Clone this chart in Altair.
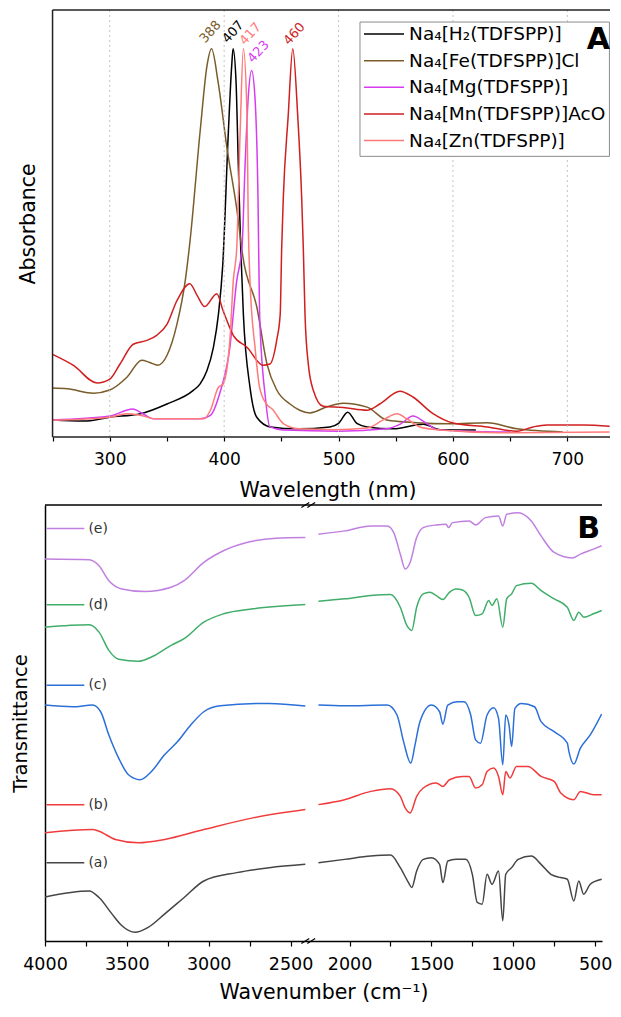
import altair as alt
import pandas as pd

FONT = "DejaVu Sans"

# ---------------- Panel A : UV-vis ----------------
A_SERIES = ["Na₄[H₂(TDFSPP)]", "Na₄[Fe(TDFSPP)]Cl", "Na₄[Mg(TDFSPP)]",
            "Na₄[Mn(TDFSPP)]AcO", "Na₄[Zn(TDFSPP)]"]
A_COLORS = ["#000000", "#7a5c2a", "#d63cf0", "#d11f1f", "#ff7a7a"]

h2_lam = [250, 277, 300, 327, 350, 373, 379, 385, 390.6, 395, 398.8, 403.7, 406.6, 407.8, 410.4,
          412.4, 414.5, 416.8, 422.6, 428.5, 440.6, 464, 492.5, 500, 508, 516, 525, 548, 574, 589, 620]
h2_abs = [0.044, 0.041, 0.051, 0.060, 0.085, 0.120, 0.137, 0.171, 0.231, 0.316, 0.444, 0.787, 0.956,
          1.0, 0.915, 0.70, 0.487, 0.316, 0.128, 0.051, 0.026, 0.021, 0.026, 0.035, 0.064, 0.035,
          0.026, 0.021, 0.033, 0.019, 0.018]

fe_lam = [250, 263, 286, 300, 315, 328, 335, 342, 350, 358.7, 366, 370, 379, 385, 389, 394.7, 402.5,
          411.3, 416.5, 428.7, 437.5, 446, 457.6, 466, 475, 490, 504, 525, 542, 568, 597, 630, 656, 696]
fe_abs = [0.126, 0.124, 0.113, 0.121, 0.154, 0.198, 0.192, 0.185, 0.210, 0.290, 0.403, 0.50, 0.787,
          0.956, 1.0, 0.915, 0.744, 0.582, 0.462, 0.333, 0.187, 0.121, 0.085, 0.069, 0.062, 0.078,
          0.087, 0.077, 0.044, 0.037, 0.034, 0.037, 0.021, 0.013]

mg_lam = [250, 300, 320, 329, 338, 379, 388, 396, 405, 411, 415.6, 418.3, 421, 424, 427, 429.6, 431,
          436, 440, 452, 500, 542, 554, 565, 577, 586, 610, 650]
mg_abs = [0.044, 0.054, 0.072, 0.060, 0.047, 0.047, 0.056, 0.111, 0.231, 0.403, 0.487, 0.70, 0.872,
          0.944, 0.872, 0.615, 0.315, 0.103, 0.026, 0.018, 0.015, 0.021, 0.033, 0.054, 0.035, 0.019,
          0.015, 0.013]

mn_lam = [250, 268, 289, 300, 309, 320.5, 332.6, 341, 350, 358.7, 370, 376, 383, 393.6, 399, 408, 420,
          434, 440, 446, 449, 450.3, 451.7, 456, 460, 464.3, 467.8, 469.2, 470.7, 473.6, 478, 486.7,
          504, 525, 536, 553.7, 565, 582.6, 600, 630, 656, 670, 682, 714, 737]
mn_abs = [0.213, 0.185, 0.139, 0.149, 0.188, 0.239, 0.249, 0.262, 0.290, 0.351, 0.395, 0.367, 0.336,
          0.369, 0.326, 0.262, 0.231, 0.185, 0.188, 0.25, 0.316, 0.487, 0.615, 0.828, 1.0, 0.828,
          0.615, 0.487, 0.315, 0.187, 0.12, 0.079, 0.076, 0.069, 0.085, 0.118, 0.103, 0.060, 0.036,
          0.026, 0.015, 0.026, 0.031, 0.031, 0.028]

zn_lam = [250, 300, 315, 326.5, 340, 382, 388, 395, 399, 405, 408, 411, 414, 416.8, 420, 421, 422.6,
          427, 431, 437, 442, 452, 466, 495, 525, 539, 551, 559.6, 571, 589, 641, 737]
zn_abs = [0.043, 0.051, 0.060, 0.056, 0.047, 0.047, 0.069, 0.128, 0.136, 0.249, 0.403, 0.487, 0.787,
          1.0, 0.828, 0.572, 0.403, 0.231, 0.128, 0.085, 0.072, 0.034, 0.021, 0.019, 0.023, 0.044,
          0.060, 0.047, 0.026, 0.018, 0.011, 0.013]

A_X_TICKS = [250, 300, 350, 400, 450, 500, 550, 600, 650, 700]
A_GRID = [300, 400, 500, 600, 700]
A_X_DOMAIN = [243.4, 737.3]

PEAK_TEXT = ["388", "407", "417", "423", "460"]
PEAK_SERIES = [A_SERIES[1], A_SERIES[0], A_SERIES[4], A_SERIES[2], A_SERIES[3]]
PEAK_LAM = [383.3, 403.1, 418.3, 425.3, 456.7]
PEAK_ABS = [1.013, 1.013, 1.008, 0.962, 1.008]

# legend layout (in data units of panel A)
LEG_BOX = (518.75, 736.8, 0.723, 1.069)
LEG_SYM = (522.25, 557.25)
LEG_TEXT_LAM = 561.65
LEG_TOP = 1.038
LEG_STEP = 0.0686

# ---------------- Panel B : FTIR ----------------
B_TRACES = ["(a)", "(b)", "(c)", "(d)", "(e)"]
B_COLORS = ["#454545", "#f03c3c", "#2b6fd8", "#40ad6a", "#c080e0"]

e_wn_l = [4000, 3730, 3670, 3610, 3530, 3390, 3230, 3150, 3030, 2910, 2750, 2590, 2410]
e_t_l = [383.7, 383, 377, 362, 353.7, 351, 355.3, 362, 380.3, 392, 401, 404.7, 405.3]
e_wn_r = [2190, 2030, 1870, 1770, 1730, 1690, 1660, 1630, 1590, 1550, 1470, 1410, 1396, 1370, 1270,
          1230, 1170, 1090, 1064, 1040, 970, 890, 830, 750, 640, 590, 510, 460]
e_t_r = [408.7, 412, 417, 417, 410.3, 388.7, 373.7, 380.3, 405.3, 415.3, 418, 418.7, 415.3, 420.3,
         422, 418, 425.3, 427, 417, 428.7, 430.3, 422, 407, 390.3, 384.7, 388.7, 393.7, 397]

d_wn_l = [4000, 3730, 3670, 3610, 3550, 3430, 3350, 3230, 3150, 3030, 2910, 2730, 2410]
d_t_l = [315.3, 317.7, 310.3, 292, 283, 281, 285.3, 297, 303.7, 320.3, 328.7, 333.7, 338]
d_wn_r = [2190, 2030, 1870, 1750, 1690, 1650, 1620, 1590, 1550, 1510, 1470, 1430, 1390, 1350, 1310,
          1270, 1230, 1190, 1150, 1130, 1100, 1064, 1040, 1010, 980, 890, 830, 750, 670, 630, 600,
          570, 510, 460]
d_t_r = [341.3, 343.7, 347, 348, 335.3, 317, 312, 335.3, 348.7, 350.3, 347, 343, 350.3, 353.7, 352.7,
         345.3, 327, 328.7, 342, 337, 343.7, 315.3, 343.7, 348.7, 357, 359.3, 352, 343.7, 335.3, 322,
         330.3, 325.3, 328.7, 332]

c_wn_l = [4000, 3830, 3710, 3660, 3610, 3550, 3490, 3420, 3350, 3270, 3190, 3110, 3030, 2930, 2630, 2410]
c_t_l = [237, 235.3, 237, 230.3, 207, 183.7, 167, 162, 170.3, 187, 200.3, 217, 230.3, 236.3, 238.7, 236]
c_wn_r = [2190, 2030, 1770, 1710, 1670, 1626, 1600, 1570, 1500, 1450, 1430, 1400, 1340, 1300, 1260,
          1230, 1200, 1160, 1120, 1090, 1064, 1046, 1026, 1010, 990, 950, 870, 830, 750, 670, 660,
          630, 590, 530, 460]
c_t_r = [237, 236.3, 237, 227, 200.3, 178.7, 197, 220.3, 237, 230.3, 217.7, 237, 240.3, 240.3, 227,
         202, 198.7, 227, 234.3, 223.7, 177, 227, 217, 195.3, 233.7, 238.7, 235.3, 220.3, 210.3, 198.7,
         190.3, 177.7, 193.7, 207, 228]

b_wn_l = [4000, 3710, 3670, 3570, 3430, 3270, 3030, 2730, 2410]
b_t_l = [108.7, 112, 110.3, 102, 98.7, 102, 112, 123.7, 132]
b_wn_r = [2190, 2030, 1870, 1750, 1690, 1660, 1630, 1590, 1550, 1470, 1430, 1390, 1310, 1270, 1230,
          1190, 1160, 1120, 1090, 1064, 1046, 1020, 980, 910, 830, 750, 710, 630, 590, 510, 460]
b_t_r = [137, 142, 150.3, 153, 145.3, 133.7, 128.7, 145.3, 153.7, 158.7, 155.3, 162, 165.3, 165.3,
         153.7, 157, 170.3, 173.7, 165.3, 147, 170.3, 163.7, 175.3, 175.3, 165.3, 160.3, 148.7, 142,
         150.3, 147, 147]

a_wn_l = [4000, 3730, 3670, 3590, 3530, 3450, 3370, 3270, 3150, 3030, 2830, 2630, 2410]
a_t_l = [44.3, 50.3, 43.7, 27, 15.3, 8.7, 13.7, 27, 43.7, 60.3, 68.7, 73.7, 77]
a_wn_r = [2190, 2030, 1870, 1750, 1690, 1640, 1620, 1590, 1550, 1500, 1450, 1430, 1400, 1350, 1290,
          1250, 1220, 1190, 1160, 1130, 1090, 1064, 1046, 1010, 970, 890, 830, 770, 710, 670, 630,
          600, 570, 530, 460]
a_t_r = [78.7, 82, 85.3, 86.3, 73.7, 58.7, 53.7, 70.3, 82, 83.7, 77, 58.7, 80.3, 82, 82, 67, 38.7,
         37, 67, 57, 70.3, 20.3, 67, 73.7, 82, 85.3, 77, 67, 63.7, 62, 40.3, 60.3, 47, 57, 62]

B_LABEL_T = [78.7, 137, 257, 337.7, 414.3]   # heights of the (a)..(e) key lines
B_KEY_WN = (3990, 3760, 3735)                  # key line start, end, text start (wavenumber)

B_TICKS_LEFT = [4000, 3750, 3500, 3250, 3000, 2750, 2500]
B_TICKS_RIGHT = [2000, 1750, 1500, 1250, 1000, 750, 500]
BREAK_HI, BREAK_LO = 2400, 2200   # axis break
BREAK_GAP = 60                     # gap width in axis units


def wn_to_pos(w):
    """position on the broken wavenumber axis"""
    if w >= 2300:
        return 4000 - w
    return (4000 - BREAK_HI) + BREAK_GAP + (BREAK_LO - w)


# ---------------- geometry ----------------
WA, HA = 565, 427
WB, HB = 557, 436

# ---------------- build panel A ----------------
rows = []
for name, lam, ab in zip(A_SERIES, [h2_lam, fe_lam, mg_lam, mn_lam, zn_lam],
                         [h2_abs, fe_abs, mg_abs, mn_abs, zn_abs]):
    for l, a in zip(lam, ab):
        rows.append({"series": name, "lam": l, "abs": a})
dfA = pd.DataFrame(rows)

colorA = alt.Color("series:N", scale=alt.Scale(domain=A_SERIES, range=A_COLORS), legend=None)

xA = alt.X("lam:Q", scale=alt.Scale(domain=A_X_DOMAIN, nice=False, zero=False),
           axis=alt.Axis(values=A_X_TICKS, labelExpr="datum.value % 100 === 0 ? datum.label : ''",
                         domain=False, grid=False, tickSize=4, tickColor="black", tickWidth=1.2,
                         labelFont=FONT, labelFontSize=17, labelColor="black", labelPadding=10,
                         labelFlush=False, title="Wavelength (nm)", titleFont=FONT,
                         titleFontSize=20.5, titleFontWeight="normal", titleColor="black",
                         titlePadding=13))
yA = alt.Y("abs:Q", scale=alt.Scale(domain=[0, 1.1], nice=False, zero=False),
           axis=alt.Axis(labels=False, ticks=False, domain=False, grid=False, title="Absorbance",
                         titleFont=FONT, titleFontSize=20.5, titleFontWeight="normal",
                         titleColor="black", titlePadding=7))

linesA = alt.Chart(dfA).mark_line(strokeWidth=1.5, clip=True, interpolate="monotone").encode(
    x=xA, y=yA, color=colorA)

gridA = alt.Chart(pd.DataFrame({"lam": A_GRID})).mark_rule(
    color="#c4c4c4", strokeDash=[2, 3], strokeWidth=1).encode(
    x="lam:Q", y=alt.value(0), y2=alt.value(HA))

frameA = alt.layer(
    alt.Chart().mark_rule(color="#222222", strokeWidth=1.5).encode(
        x=alt.datum(250), y=alt.value(0), y2=alt.value(HA)),
    alt.Chart().mark_rule(color="#222222", strokeWidth=1.5).encode(
        x=alt.datum(250), x2=alt.datum(A_X_DOMAIN[1]), y=alt.value(HA)),
    alt.Chart().mark_rule(color="#222222", strokeWidth=1.5).encode(
        x=alt.datum(250), x2=alt.datum(A_X_DOMAIN[1]), y=alt.value(0)),
)

peaks = pd.DataFrame({"series": PEAK_SERIES, "lam": PEAK_LAM, "abs": PEAK_ABS, "txt": PEAK_TEXT})
peakText = alt.Chart(peaks).mark_text(angle=312, align="left", baseline="alphabetic",
                                      font=FONT, fontSize=13).encode(
    x="lam:Q", y="abs:Q", text="txt:N", color=colorA)

legRows = pd.DataFrame({
    "series": A_SERIES,
    "lam": [LEG_SYM[0]] * 5,
    "lam2": [LEG_SYM[1]] * 5,
    "tlam": [LEG_TEXT_LAM] * 5,
    "abs": [LEG_TOP - i * LEG_STEP for i in range(5)],
})
legBox = alt.Chart().mark_rect(fill="white", stroke="#8c8c8c", strokeWidth=1).encode(
    x=alt.datum(LEG_BOX[0]), x2=alt.datum(LEG_BOX[1]),
    y=alt.datum(LEG_BOX[2]), y2=alt.datum(LEG_BOX[3]))
legSym = alt.Chart(legRows).mark_rule(strokeWidth=1.5).encode(
    x="lam:Q", x2="lam2:Q", y="abs:Q", color=colorA)
legTxt = alt.Chart(legRows).mark_text(align="left", baseline="middle", font=FONT,
                                      fontSize=18.5, color="black").encode(
    x="tlam:Q", y="abs:Q", text="series:N")

letterA = alt.Chart(pd.DataFrame({"t": ["A"]})).mark_text(
    align="right", baseline="alphabetic", font=FONT, fontSize=30, fontWeight="bold",
    color="black").encode(text="t:N", x=alt.value(WA), y=alt.value(39))

panelA = alt.layer(linesA, gridA, frameA, peakText, legBox, legSym, legTxt, letterA).properties(
    width=WA, height=HA)

# ---------------- build panel B ----------------
rowsB = []
traces = {
    "(a)": (a_wn_l, a_t_l, a_wn_r, a_t_r),
    "(b)": (b_wn_l, b_t_l, b_wn_r, b_t_r),
    "(c)": (c_wn_l, c_t_l, c_wn_r, c_t_r),
    "(d)": (d_wn_l, d_t_l, d_wn_r, d_t_r),
    "(e)": (e_wn_l, e_t_l, e_wn_r, e_t_r),
}
for name, (wl, tl, wr, tr) in traces.items():
    for w, t in zip(wl, tl):
        rowsB.append({"trace": name, "seg": name + "L", "pos": wn_to_pos(w), "T": t})
    for w, t in zip(wr, tr):
        rowsB.append({"trace": name, "seg": name + "R", "pos": wn_to_pos(w), "T": t})
dfB = pd.DataFrame(rowsB)

colorB = alt.Color("trace:N", scale=alt.Scale(domain=B_TRACES, range=B_COLORS), legend=None)

tick_pos = [wn_to_pos(w) for w in B_TICKS_LEFT + B_TICKS_RIGHT]
split = 4000 - BREAK_HI
off = (4000 - BREAK_HI) + BREAK_GAP + BREAK_LO
wn_expr = f"(datum.value <= {split} ? 4000 - datum.value : {off} - datum.value)"
xB = alt.X("pos:Q", scale=alt.Scale(domain=[0, 3402], nice=False, zero=False),
           axis=alt.Axis(values=tick_pos,
                         labelExpr=f"{wn_expr} % 500 === 0 ? toString({wn_expr}) : ''",
                         domain=True, domainColor="black", domainWidth=1.5, grid=False,
                         tickSize=5, tickColor="black", tickWidth=1.2,
                         labelFont=FONT, labelFontSize=17.5, labelColor="black", labelPadding=9,
                         labelFlush=False, title="Wavenumber (cm⁻¹)", titleFont=FONT,
                         titleFontSize=20.5, titleFontWeight="normal", titleColor="black",
                         titlePadding=10))
yB = alt.Y("T:Q", scale=alt.Scale(domain=[0, 438], nice=False, zero=False),
           axis=alt.Axis(labels=False, ticks=False, domain=True, domainColor="black",
                         domainWidth=1.5, grid=False, title="Transmittance", titleFont=FONT,
                         titleFontSize=19.5, titleFontWeight="normal", titleColor="black",
                         titlePadding=15))

linesB = alt.Chart(dfB).mark_line(strokeWidth=1.5, clip=True, interpolate="monotone").encode(
    x=xB, y=yB, color=colorB, detail="seg:N")

topB = alt.Chart().mark_rule(color="black", strokeWidth=1.5).encode(
    x=alt.value(0), x2=alt.value(WB), y=alt.value(0))

brk = pd.DataFrame({
    "pos": [1566, 1602, 1566, 1602],
    "pos2": [1614, 1650, 1614, 1650],
    "T": [-2.5, -2.5, 435.5, 435.5],
    "T2": [2.5, 2.5, 440.5, 440.5],
})
breakMarks = alt.Chart(brk).mark_rule(color="black", strokeWidth=1.2).encode(
    x="pos:Q", x2="pos2:Q", y="T:Q", y2="T2:Q")

keys = pd.DataFrame({
    "trace": B_TRACES,
    "pos": [wn_to_pos(B_KEY_WN[0])] * 5,
    "pos2": [wn_to_pos(B_KEY_WN[1])] * 5,
    "tpos": [wn_to_pos(B_KEY_WN[2])] * 5,
    "T": B_LABEL_T,
})
keyLines = alt.Chart(keys).mark_rule(strokeWidth=1.5).encode(
    x="pos:Q", x2="pos2:Q", y="T:Q", color=colorB)
keyText = alt.Chart(keys).mark_text(align="left", baseline="middle", font=FONT, fontSize=14,
                                    color="#333333").encode(x="tpos:Q", y="T:Q", text="trace:N")

letterB = alt.Chart(pd.DataFrame({"t": ["B"]})).mark_text(
    align="right", baseline="alphabetic", font=FONT, fontSize=30, fontWeight="bold",
    color="black").encode(text="t:N", x=alt.value(WB - 2), y=alt.value(33))

panelB = alt.layer(linesB, topB, breakMarks, keyLines, keyText, letterB).properties(
    width=WB, height=HB)

chart = alt.vconcat(panelA, panelB, spacing=0).resolve_scale(color="independent").properties(
    padding={"left": 2, "top": 1, "right": 0, "bottom": 0}, background="white"
).configure(font=FONT).configure_view(stroke=None)

chart.save("out.html", embed_options={"renderer": "svg", "actions": False})
